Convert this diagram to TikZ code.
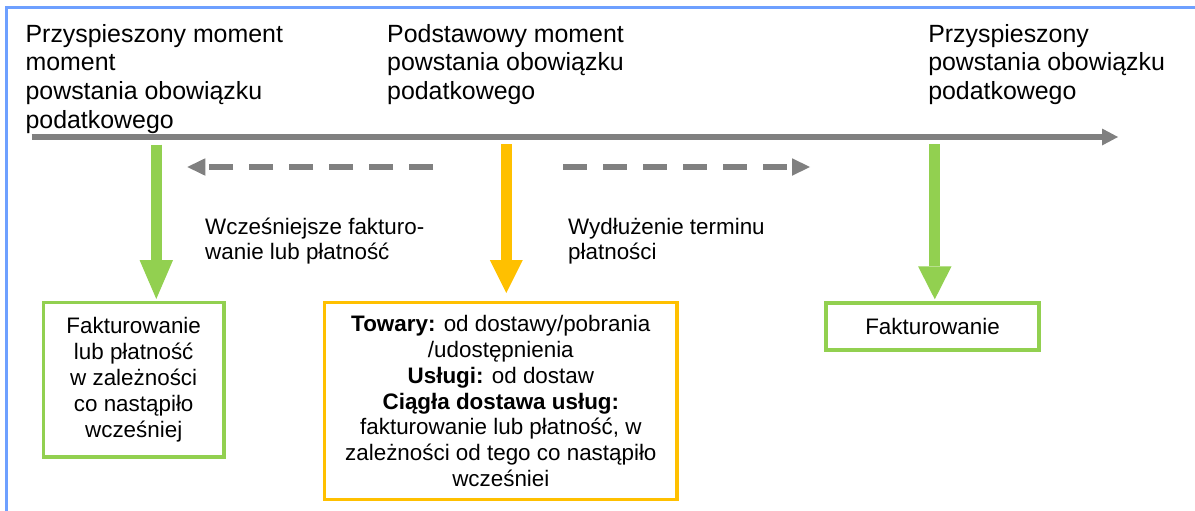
\documentclass[tikz,border=0pt]{standalone}
\usepackage{fontspec}
\setmainfont{Liberation Sans}
\usetikzlibrary{arrows.meta}
\definecolor{frameblue}{RGB}{110,160,255}
\definecolor{tlgray}{RGB}{128,128,128}
\definecolor{agreen}{RGB}{146,208,80}
\definecolor{aorange}{RGB}{255,192,0}
\tikzset{
  headtext/.style={font=\fontsize{24.9}{28.67}\selectfont, align=left, anchor=north west, inner sep=0pt},
  labeltext/.style={font=\fontsize{22.4}{25.5}\selectfont, align=left, anchor=north west, inner sep=0pt},
  boxtext/.style={font=\fontsize{22.4}{25.9}\selectfont, align=center, line width=3.5pt, inner sep=0pt, rectangle},
  gbox/.style={boxtext, draw=agreen},
  obox/.style={boxtext, draw=aorange},
  timeline/.style={draw=tlgray, line width=6pt, -{Triangle[length=16pt,width=17pt,line width=0pt]}},
  dasharrow/.style={draw=tlgray, line width=5.3pt, dash pattern=on 24pt off 16pt, -{Triangle[length=18pt,width=17.5pt,line width=0pt]}},
  greenarrow/.style={draw=agreen, line width=11.3pt, -{Triangle[length=#1,width=33.5pt,line width=0pt]}},
  orangearrow/.style={draw=aorange, line width=11.3pt, -{Triangle[length=33pt,width=33pt,line width=0pt]}},
  frameline/.style={draw=frameblue, line width=2.8pt}
}
\begin{document}
\begin{tikzpicture}[x=1pt,y=-1pt]
\useasboundingbox (0,0) rectangle (1195,511);
% frame
\draw[frameline] (6.7,520) -- (6.7,7.3) -- (1200,7.3);
% headers
\node[headtext] (h1) at (25.4,23.9) {Przyspieszony moment\\moment\\powstania obowiązku\\podatkowego};
\node[headtext] (h2) at (387,23.9) {Podstawowy moment\\powstania obowiązku\\podatkowego};
\node[headtext] (h3) at (928.1,23.9) {Przyspieszony\\powstania obowiązku\\podatkowego};
% timeline
\coordinate (t0) at (31.7,137);
\coordinate (t1) at (1118,137);
\draw[timeline] (t0) -- (t1);
% dashed arrows
\coordinate (dl0) at (433,167);
\coordinate (dl1) at (187.3,167);
\draw[dasharrow] (dl0) -- (dl1);
\coordinate (dr0) at (563.3,167);
\coordinate (dr1) at (810,167);
\draw[dasharrow] (dr0) -- (dr1);
% labels
\node[labeltext] (l1) at (205,217.6) {Wcześniejsze fakturo-\\wanie lub płatność};
\node[labeltext] (l2) at (568,218) {Wydłużenie terminu\\płatności};
% boxes
\node[gbox, minimum width=180.4pt, minimum height=154.7pt] (b1) at (133.7,379.85)
  {Fakturowanie\\lub płatność\\w zależności\\co nastąpiło\\wcześniej};
\node[obox, minimum width=352.7pt, minimum height=197pt] (b2) at (500.85,401)
  {\textbf{Towary:} od dostawy/pobrania\\/udostępnienia\\\textbf{Usługi:} od dostaw\\\textbf{Ciągła dostawa usług:}\\fakturowanie lub płatność, w\\zależności od tego co nastąpiło\\wcześniei};
\node[gbox, minimum width=213.4pt, minimum height=47.1pt] (b3) at (932.5,326.35) {Fakturowanie};
% vertical arrows
\coordinate (a1) at (156.3,144.5);
\coordinate (a2) at (506.3,144.3);
\coordinate (a3) at (934.8,144.3);
\draw[greenarrow=39pt, shorten >=1.75pt] (a1) -- (a1 |- b1.north);
\draw[orangearrow, shorten >=7.75pt] (a2) -- (a2 |- b2.north);
\draw[greenarrow=33pt, shorten >=1.75pt] (a3) -- (a3 |- b3.north);
\end{tikzpicture}
\end{document}
